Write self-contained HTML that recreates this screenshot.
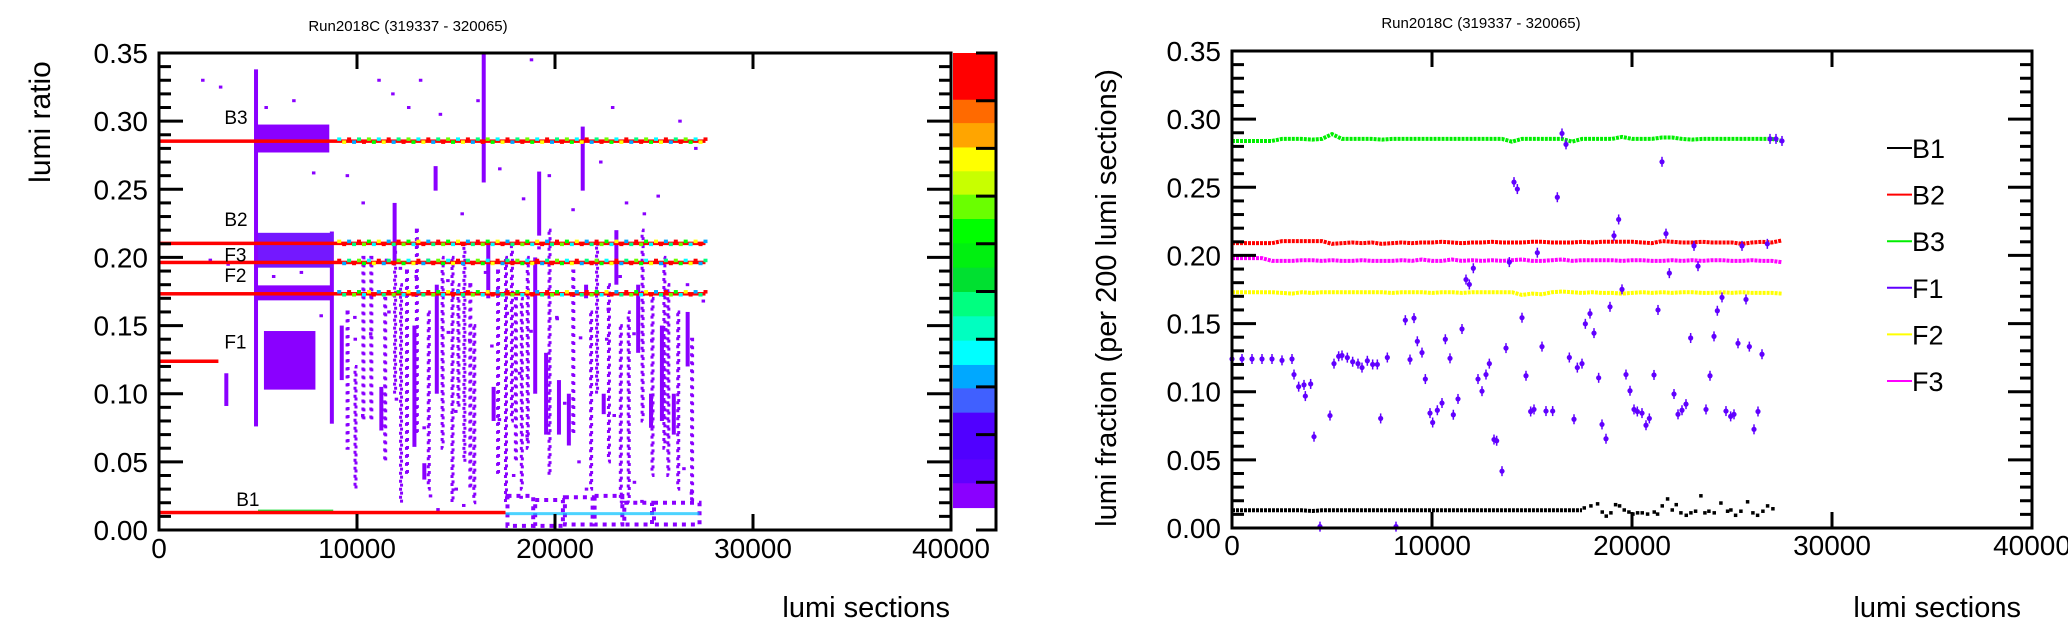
<!DOCTYPE html>
<html><head><meta charset="utf-8"><style>
html,body{margin:0;padding:0;background:#fff;}
svg{display:block;font-family:"Liberation Sans",sans-serif;}
</style></head><body>
<svg id="fig" width="2068" height="633" viewBox="0 0 2068 633" xmlns="http://www.w3.org/2000/svg">
<g id="left"></g>
<g id="right"></g>
</svg>
<script>
const NS="http://www.w3.org/2000/svg";
// ---------- shared tick data ----------
const xTickVals=[0,10000,20000,30000,40000];
const xTickLabels=["0","10000","20000","30000","40000"];
const yTickVals=[0,0.05,0.10,0.15,0.20,0.25,0.30,0.35];
const yTickLabels=["0.00","0.05","0.10","0.15","0.20","0.25","0.30","0.35"];
// ---------- left heatmap data ----------
const bandNames=["B3","B2","F3","F2","F1","B1"];
const bandY=[0.2855,0.2105,0.1965,0.1735,0.124,0.013];
const bandX0=[0,0,0,0,0,0];
const bandX1=[27600,27600,27600,27600,3000,17500];
const bandLabelX=[3300,3300,3300,3300,3300,3900];
const bandLabelY=[0.298,0.223,0.197,0.182,0.133,0.0175];
const blobX0=[5000,5000,5000,5000,5300];
const blobX1=[8600,8800,8800,8800,7900];
const blobY0=[0.277,0.1925,0.1685,0.200,0.103];
const blobY1=[0.2975,0.218,0.1795,0.218,0.146];
const streakX=[4900,3400,8730,9230,11230,11900,12900,13400,13970,14030,16400,16630,16900,19200,19000,19550,20200,20700,21400,21570,22460,23100,24200,24850,25400,26000,26700,10400,12300,14900,15800,17600,18100,23800,25800,
 9600,10000,10800,11500,12000,12600,13100,13700,14400,15200,15500,16000,17200,17900,18400,18700,19800,21000,21900,22200,22800,23400,24500,25000,25600,26300,27000];
const streakY0=[0.076,0.091,0.078,0.11,0.073,0.195,0.061,0.037,0.249,0.10,0.255,0.17,0.08,0.216,0.10,0.07,0.07,0.062,0.249,0.17,0.085,0.18,0.13,0.075,0.08,0.07,0.12,0.08,0.02,0.02,0.03,0.02,0.05,0.02,0.04,
 0.06,0.03,0.08,0.05,0.10,0.04,0.07,0.03,0.06,0.09,0.05,0.02,0.04,0.08,0.03,0.06,0.04,0.07,0.03,0.10,0.05,0.02,0.08,0.04,0.06,0.03,0.02];
const streakY1=[0.338,0.115,0.219,0.15,0.105,0.24,0.15,0.049,0.267,0.18,0.35,0.21,0.105,0.263,0.2,0.13,0.11,0.10,0.296,0.18,0.10,0.22,0.18,0.10,0.15,0.10,0.16,0.2,0.18,0.2,0.18,0.2,0.17,0.16,0.18,
 0.16,0.12,0.20,0.17,0.21,0.19,0.22,0.16,0.20,0.18,0.21,0.15,0.19,0.21,0.17,0.20,0.22,0.19,0.16,0.21,0.18,0.15,0.22,0.17,0.20,0.16,0.14];
const streakDense=[1,1,1,1,1,1,1,1,1,1,1,1,1,1,1,1,1,1,1,1,1,1,1,1,1,1,1,0,0,0,0,0,0,0,0,
 0,0,0,0,0,0,0,0,0,0,0,0,0,0,0,0,0,0,0,0,0,0,0,0,0,0,0];
const lowX0=[17600,19000,20500,22000,23500,25000];
const lowX1=[18900,20400,21900,23400,24900,27300];
const lowY0=[0.003,0.003,0.004,0.004,0.004,0.004];
const lowY1=[0.025,0.022,0.024,0.025,0.02,0.02];
const dotX=[2200,3100,5400,6800,7800,9500,10300,11100,11800,12600,13200,14200,15300,16100,17200,18400,18800,19700,20900,22300,22900,23600,24500,25200,26300,27100,13700,15000,17900,21200,24000,26500,9900,11600,13000,14600,16800,18200,20100,22600];
const dotY=[0.33,0.325,0.31,0.315,0.262,0.26,0.24,0.33,0.32,0.31,0.33,0.305,0.232,0.315,0.265,0.243,0.345,0.26,0.235,0.27,0.31,0.24,0.232,0.245,0.30,0.28,0.025,0.03,0.04,0.05,0.035,0.045,0.14,0.16,0.125,0.145,0.135,0.115,0.155,0.14];
const cbColors=["#ff0000","#ff6a00","#ffa500","#ffff00","#c8ff00","#6aff00","#00ff00","#00f010","#00e030","#00ff80","#00ffc0","#00ffff","#00a8ff","#4060ff","#5000ff","#6000ff","#8a00ff"];
const cbFrac=[0.098,0.049,0.051,0.05,0.049,0.051,0.051,0.051,0.051,0.051,0.051,0.051,0.049,0.051,0.098,0.05,0.051];
// ---------- right series data (every 500 lumi sections) ----------
const step=500;
const B3=[.284,.284,.284,.284,.284,.2855,.2855,.2855,.285,.2855,.289,.2855,.2855,.2855,.2855,.285,.2855,.2855,.2855,.2855,.2855,.2855,.2855,.2855,.2855,.2855,.2855,.2855,.2835,.2855,.2855,.2855,.2855,.2855,.2835,.2855,.2855,.2855,.2855,.287,.2855,.2855,.2855,.2865,.2865,.2855,.285,.2855,.2855,.2855,.2855,.2855,.2855,.2855,.2855,.284];
const B2=[.209,.209,.209,.209,.209,.2105,.2105,.2105,.2105,.2105,.2085,.209,.2095,.209,.2095,.2085,.209,.2095,.209,.2095,.2095,.21,.2095,.209,.2095,.2095,.21,.2095,.2095,.2095,.21,.21,.2095,.2095,.2095,.21,.2095,.21,.21,.21,.21,.2095,.209,.2105,.21,.2095,.2095,.21,.2095,.2095,.2095,.2085,.2095,.21,.2095,.211];
const F3=[.198,.198,.198,.198,.196,.196,.196,.1965,.1965,.196,.1965,.196,.196,.1965,.196,.196,.196,.1965,.196,.197,.196,.196,.197,.196,.1965,.196,.1965,.196,.1965,.197,.196,.196,.1965,.197,.196,.1965,.1965,.1965,.1965,.196,.1965,.1965,.196,.196,.1965,.196,.1965,.196,.1965,.1965,.196,.196,.1965,.196,.196,.195];
const F2=[.173,.173,.173,.173,.173,.1725,.172,.173,.1725,.173,.173,.173,.173,.173,.173,.173,.1725,.173,.173,.173,.1725,.173,.173,.1725,.173,.173,.173,.173,.173,.171,.172,.1715,.173,.1735,.173,.1725,.173,.1725,.1725,.172,.1725,.173,.1725,.173,.1725,.173,.173,.1725,.1725,.173,.1725,.173,.1725,.1725,.1725,.172];
const B1=[.013,.013,.013,.013,.013,.013,.013,.013,.0125,.013,.013,.013,.013,.013,.013,.013,.013,.013,.013,.013,.013,.013,.013,.013,.013,.013,.013,.013,.013,.013,.013,.013,.013,.013,.013,.013];
const B1sx=[17600,17933,18267,18500,18700,18933,19167,19367,19600,19833,20033,20267,20500,20767,21100,21267,21500,21767,22000,22200,22433,22700,22933,23167,23433,23633,23833,24100,24433,24767,24933,25167,25433,25767,26033,26267,26533,26767,27033];
const B1sy=[.0149,.0164,.0179,.0119,.0089,.0113,.0173,.0164,.0134,.0119,.0104,.0113,.0113,.0104,.0119,.0104,.0164,.0215,.0134,.0173,.0113,.0095,.0113,.0125,.0238,.0113,.0125,.0113,.0185,.0125,.0134,.0095,.0125,.0194,.0113,.0095,.0125,.0164,.0143];
const F1x=[0,500,1000,1500,2000,2500,3000,3100,3333,3600,3667,3933,4100,4900,5100,5333,5500,5767,6033,6300,6500,6767,7033,7267,7433,7767,8667,8900,9100,9267,9500,9667,9900,10033,10267,10500,10667,10900,11067,11300,11500,11700,11867,12067,12300,12500,12700,12867,13100,13233,13500,13700,13867,14100,14267,14500,14700,14933,15100,15267,15500,15700,16033,16267,16500,16700,16867,17100,17267,17500,17667,17900,18100,18333,18500,18700,18900,19100,19333,19500,19700,19900,20100,20267,20500,20700,20867,21100,21300,21500,21700,21867,22100,22300,22500,22700,22933,23100,23300,23700,23900,24100,24267,24500,24700,24933,25100,25300,25500,25700,25867,26100,26300,26500,26767,26900,27200,27500,4400,8200];
const F1y=[.124,.124,.124,.124,.124,.123,.124,.1126,.1037,.105,.0968,.1057,.067,.0825,.1206,.126,.1266,.125,.122,.1206,.1177,.1227,.12,.12,.0804,.1251,.1525,.1236,.154,.137,.1287,.1093,.0843,.0774,.0864,.0917,.1385,.1245,.0831,.0947,.146,.1823,.1787,.1906,.1093,.1004,.1126,.1206,.0649,.064,.0417,.132,.1951,.2538,.2487,.1543,.1117,.0855,.087,.202,.1331,.0858,.0858,.2427,.2895,.2815,.1251,.0798,.1177,.1206,.1498,.1573,.143,.1102,.076,.0655,.1623,.2145,.2264,.1751,.1126,.1007,.087,.0855,.0843,.0754,.0804,.1123,.16,.2687,.216,.187,.0983,.0834,.0864,.0909,.1394,.207,.1921,.087,.1117,.1406,.1594,.1692,.0858,.0819,.0834,.1355,.207,.1677,.1331,.0724,.0855,.1275,.2085,.2855,.2855,.284,.001,.001];
const legendNames=["B1","B2","B3","F1","F2","F3"];
const legendColors=["#000000","#ff0000","#00ee00","#6000ff","#ffff00","#ff00ff"];

function el(tag,attrs,parent){const e=document.createElementNS(NS,tag);for(const k in attrs)e.setAttribute(k,attrs[k]);parent.appendChild(e);return e;}

function drawAxes(g,X0,X1,Y0,Y1,lx,ly,tickRight,labelRight,xLabY){
  const ax=el('g',{},g);
  
  
  for(let i=0;i<xTickVals.length;i++){
    const x=lx(xTickVals[i]);
    const t1=el('line',{x1:x,x2:x,y1:Y1,y2:Y1-16,stroke:'#000','stroke-width':3},ax);
    
    
    el('line',{x1:x,x2:x,y1:Y0,y2:Y0+16,stroke:'#000','stroke-width':3},ax);
    const t=el('text',{x:x,y:xLabY,'font-size':28,'text-anchor':'middle'},ax);
    t.textContent=xTickLabels[i];
    
    
  }
  for(let v=0;v<=35;v++){
    const y=ly(v/100), major=v%5===0, len=major?24:12;
    el('line',{x1:X0,x2:X0+len,y1:y,y2:y,stroke:'#000','stroke-width':3},ax);
    if(tickRight) el('line',{x1:X1,x2:X1-len,y1:y,y2:y,stroke:'#000','stroke-width':3},ax);
  }
  for(let i=0;i<yTickVals.length;i++){
    const t=el('text',{x:labelRight,y:ly(yTickVals[i])+10,'font-size':28,'text-anchor':'end'},ax);
    t.textContent=yTickLabels[i];
    
    
  }
  const fr=el('rect',{x:X0,y:Y0,width:X1-X0,height:Y1-Y0,fill:'none',stroke:'#000','stroke-width':3},ax);
  
  
}

// ===== LEFT =====
(function(){
  const g=document.getElementById('left');
  const X0=159,X1=951,Y0=53,Y1=530;
  const lx=v=>X0+v/40000*(X1-X0), ly=v=>Y1-v/0.35*(Y1-Y0);
  const P='#8a00ff',P2='#7418ff';
  for(let i=0;i<streakX.length;i++){
    const r=el('rect',{x:lx(streakX[i])-2,y:ly(streakY1[i]),width:4,height:ly(streakY0[i])-ly(streakY1[i]),fill:P},g);
    
    
    if(!streakDense[i]){r.setAttribute('fill','none');r.setAttribute('stroke',P);r.setAttribute('stroke-width',3);r.setAttribute('stroke-dasharray','3 5');r.setAttribute('width',1);}
  }
  for(let i=0;i<dotX.length;i++){
    const r=el('rect',{x:lx(dotX[i])-1.5,y:ly(dotY[i])-1.5,width:3.5,height:3,fill:P},g);
    
    
    el('rect',{x:lx(dotX[i])+6,y:ly(dotY[i]*0.6)-1.5,width:3.5,height:3,fill:P},g);
  }
  for(let i=0;i<lowX0.length;i++){
    const r=el('rect',{x:lx(lowX0[i]),y:ly(lowY1[i]),width:lx(lowX1[i])-lx(lowX0[i]),height:ly(lowY0[i])-ly(lowY1[i]),fill:'none',stroke:P,'stroke-width':4,'stroke-dasharray':'4 5'},g);
    
    
  }
  el('rect',{x:lx(17500),y:ly(0.012)-1.5,width:lx(27300)-lx(17500),height:3,fill:'#00c0ff',opacity:0.7},g);
  for(let i=0;i<blobX0.length;i++){
    const r=el('rect',{x:lx(blobX0[i]),y:ly(blobY1[i]),width:lx(blobX1[i])-lx(blobX0[i]),height:ly(blobY0[i])-ly(blobY1[i]),fill:i%2?P2:P},g);
    
    
  }
  el('rect',{x:lx(5000),y:ly(0.0135)-2,width:lx(8800)-lx(5000),height:4,fill:'#20e040'},g);
  const spk=["#00ff00","#00ffff","#ffff00","#ff0000","#00a8ff","#00ff80","#ff0000","#6aff00"];
  for(let i=0;i<bandY.length;i++){
    const y=ly(bandY[i]);
    const l=el('rect',{x:lx(bandX0[i]),y:y-1.5,width:lx(bandX1[i])-lx(bandX0[i]),height:3.5,fill:'#ff0000'},g);
    
    
    if(i<4){let k=0;for(let x=9000;x<bandX1[i];x+=250){k++;el('rect',{x:lx(x),y:y-(k%2?3.5:0.5),width:4,height:3.5,fill:spk[(k+i)%spk.length]},g);}}
    const t=el('text',{x:lx(bandLabelX[i]),y:ly(bandLabelY[i]),'font-size':19},g);
    t.textContent=bandNames[i];
    
    
  }
  drawAxes(g,X0,X1,Y0,Y1,lx,ly,true,148,558);
  const cb=el('g',{},g);
  
  
  let yy=Y0;
  for(let i=0;i<cbColors.length;i++){const h=cbFrac[i]*(Y1-Y0);el('rect',{x:953,y:yy,width:42,height:h+0.5,fill:cbColors[i]},cb);yy+=h;}
  el('line',{x1:996,x2:996,y1:Y0-1.5,y2:Y1+1.5,stroke:'#000','stroke-width':3},cb);
  for(let k=0;k<=10;k++){const y=Y0+k*47.7;el('line',{x1:976,x2:997,y1:y,y2:y,stroke:'#000','stroke-width':3},cb);}
  const tt=el('text',{x:408,y:31,'font-size':15,'text-anchor':'middle'},g);tt.textContent="Run2018C (319337 - 320065)";
  
  
  const yl=el('text',{x:0,y:0,'font-size':30,'text-anchor':'middle',transform:'translate(50,122) rotate(-90)'},g);yl.textContent="lumi ratio";
  
  
  const xl=el('text',{x:950,y:617,'font-size':29,'text-anchor':'end'},g);xl.textContent="lumi sections";
  
  
})();

// ===== RIGHT =====
(function(){
  const g=document.getElementById('right');
  const X0=1232,X1=2032,Y0=51,Y1=528;
  const lx=v=>X0+v/40000*(X1-X0), ly=v=>Y1-v/0.35*(Y1-Y0);
  function series(vals,color,name){
    const s=el('g',{},g);
    
    
    const pts=vals.map((v,i)=>lx(i*step)+','+ly(v)).join(' ');
    el('polyline',{points:pts,fill:'none',stroke:color,'stroke-width':4,'stroke-dasharray':'3 1'},s);
  }
  series(B3,'#00ee00','b3');
  series(B2,'#ff0000','b2');
  series(F3,'#ff00ff','f3');
  series(F2,'#ffff00','f2');
  series(B1,'#000000','b1');
  for(let i=0;i<B1sx.length;i++){
    const c=el('rect',{x:lx(B1sx[i])-1.5,y:ly(B1sy[i])-1.5,width:3.5,height:3.5,fill:'#000'},g);
    
    
  }
  for(let i=0;i<F1x.length;i++){
    const c=el('circle',{cx:lx(F1x[i]),cy:ly(F1y[i]),r:2.6,fill:'#6000ff'},g);
    
    
    el('line',{x1:lx(F1x[i]),x2:lx(F1x[i]),y1:ly(F1y[i])-5,y2:ly(F1y[i])+5,stroke:'#6000ff','stroke-width':1.5},g);
  }
  drawAxes(g,X0,X1,Y0,Y1,lx,ly,true,1221,555);
  for(let i=0;i<legendNames.length;i++){
    const y=148+i*46.6;
    const le=el('g',{},g);
    
    
    el('line',{x1:1887,x2:1912,y1:y,y2:y,stroke:legendColors[i],'stroke-width':2},le);
    const t=el('text',{x:1912,y:y+10,'font-size':27},le);t.textContent=legendNames[i];
  }
  const tt=el('text',{x:1481,y:28,'font-size':15,'text-anchor':'middle'},g);tt.textContent="Run2018C (319337 - 320065)";
  
  
  const yl=el('text',{x:0,y:0,'font-size':29,'text-anchor':'middle',transform:'translate(1116,298) rotate(-90)'},g);yl.textContent="lumi fraction (per 200 lumi sections)";
  
  
  const xl=el('text',{x:2021,y:617,'font-size':29,'text-anchor':'end'},g);xl.textContent="lumi sections";
  
  
})();
</script>
</body></html>
